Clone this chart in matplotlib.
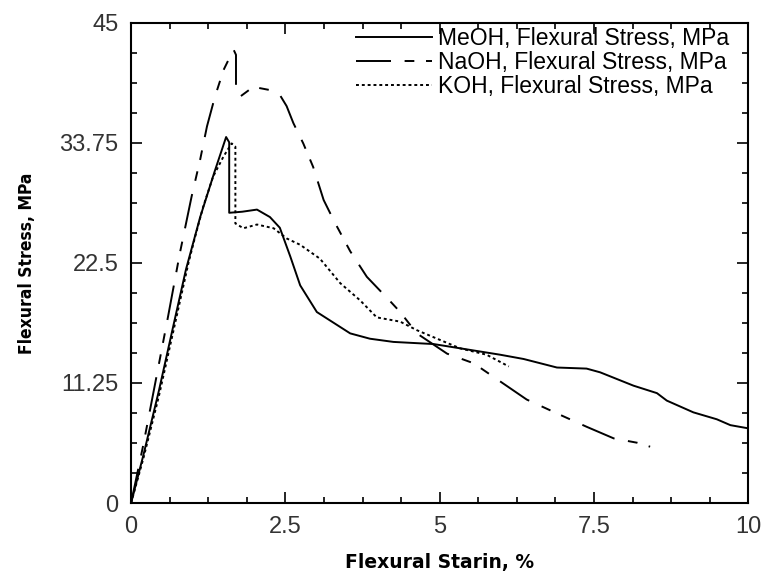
import matplotlib
matplotlib.use("Agg")
import matplotlib.pyplot as plt
from matplotlib.ticker import MultipleLocator

# Flexural strain (%) vs flexural stress (MPa)
meoh_strain = [0, 0.2, 0.45, 0.7, 0.89, 1.12, 1.35, 1.54, 1.59, 1.59, 1.8, 2.04, 2.25, 2.41,
               2.58, 2.74, 3.01, 3.28, 3.55, 3.87, 4.25, 4.9, 5.44, 5.98, 6.36, 6.9, 7.38,
               7.6, 8.14, 8.52, 8.68, 9.11, 9.49, 9.71, 10.0]
meoh_stress = [0, 4.5, 10.5, 17.0, 21.9, 26.8, 31.0, 34.3, 33.8, 27.2, 27.3, 27.5, 26.8, 25.8,
               23.1, 20.4, 17.9, 16.9, 15.9, 15.4, 15.1, 14.9, 14.4, 13.9, 13.5, 12.7, 12.6,
               12.25, 11.0, 10.3, 9.6, 8.5, 7.85, 7.3, 7.0]

naoh_strain = [0, 0.2, 0.4, 0.6, 0.79, 0.98, 1.12, 1.23, 1.36, 1.5, 1.66, 1.70, 1.70, 1.77,
               1.98, 2.25, 2.41, 2.52, 2.63, 2.79, 2.95, 3.12, 3.3, 3.55, 3.82, 4.2, 4.36,
               4.63, 5.12, 5.55, 5.98, 6.41, 6.9, 7.38, 7.82, 8.2, 8.41]
naoh_stress = [0, 5.5, 11.5, 17.5, 23.4, 28.7, 32.2, 35.3, 38.1, 40.6, 42.5, 42.0, 38.8, 38.1,
               39.0, 38.7, 38.25, 37.2, 35.6, 33.7, 31.5, 28.4, 26.3, 23.6, 21.2, 18.9, 17.9,
               15.9, 14.0, 13.1, 11.4, 9.7, 8.4, 7.15, 6.06, 5.65, 5.28]

koh_strain = [0, 0.2, 0.45, 0.7, 0.93, 1.04, 1.17, 1.33, 1.5, 1.63, 1.69, 1.69, 1.82, 2.04,
              2.31, 2.52, 2.74, 3.06, 3.39, 3.71, 3.98, 4.36, 4.63, 5.0, 5.33, 5.76, 6.12]
koh_stress = [0, 4.2, 10.0, 16.5, 22.5, 25.0, 27.8, 30.6, 32.5, 33.7, 33.4, 26.2, 25.75, 26.1,
              25.75, 24.8, 24.2, 22.9, 20.6, 19.0, 17.4, 17.0, 16.2, 15.3, 14.5, 13.9, 12.8]

labels = ["MeOH, Flexural Stress, MPa", "NaOH, Flexural Stress, MPa", "KOH, Flexural Stress, MPa"]

plt.rcParams["font.family"] = ["Liberation Sans", "DejaVu Sans"]

fig = plt.figure(figsize=(7.62, 5.71), dpi=100)
ax = fig.add_axes([0.172, 0.119, 0.81, 0.841])

ax.plot(meoh_strain, meoh_stress, color="black", lw=1.4, label=labels[0])
ax.plot(naoh_strain, naoh_stress, color="black", lw=1.4, dashes=(18, 7, 5, 6, 5, 7), label=labels[1])
ax.plot(koh_strain, koh_stress, color="black", lw=1.4, dashes=(1.5, 1.5), label=labels[2])

ax.set_xlim(0, 10)
ax.set_ylim(0, 45)
ax.set_xticks([0, 2.5, 5, 7.5, 10])
ax.set_xticklabels(["0", "2.5", "5", "7.5", "10"])
ax.set_yticks([0, 11.25, 22.5, 33.75, 45])
ax.set_yticklabels(["0", "11.25", "22.5", "33.75", "45"])
ax.xaxis.set_minor_locator(MultipleLocator(0.625))
ax.yaxis.set_minor_locator(MultipleLocator(2.8125))
ax.tick_params(which="both", direction="in", top=True, right=True, width=1.2, labelsize=17, colors="black")
ax.tick_params(which="major", length=8, pad=9)
ax.tick_params(which="minor", length=4)
for tl in ax.get_xticklabels() + ax.get_yticklabels():
    tl.set_color("#333333")
for s in ax.spines.values():
    s.set_linewidth(1.5)

ax.set_xlabel("Flexural Starin, %", family=["DejaVu Sans"], fontsize=13.5, fontweight="bold", labelpad=11)
ax.set_ylabel("Flexural Stress, MPa", family=["DejaVu Sans Condensed", "Liberation Sans Narrow", "DejaVu Sans"],
              fontstretch="condensed", fontsize=12.5, fontweight="bold", labelpad=17)

ax.legend(loc="upper right", bbox_to_anchor=(0.977, 1.0), frameon=False, fontsize=16.5,
          handlelength=3.3, handletextpad=0.3, labelspacing=0.03, borderaxespad=0, borderpad=0.2)

fig.savefig("out.png", dpi=100)
